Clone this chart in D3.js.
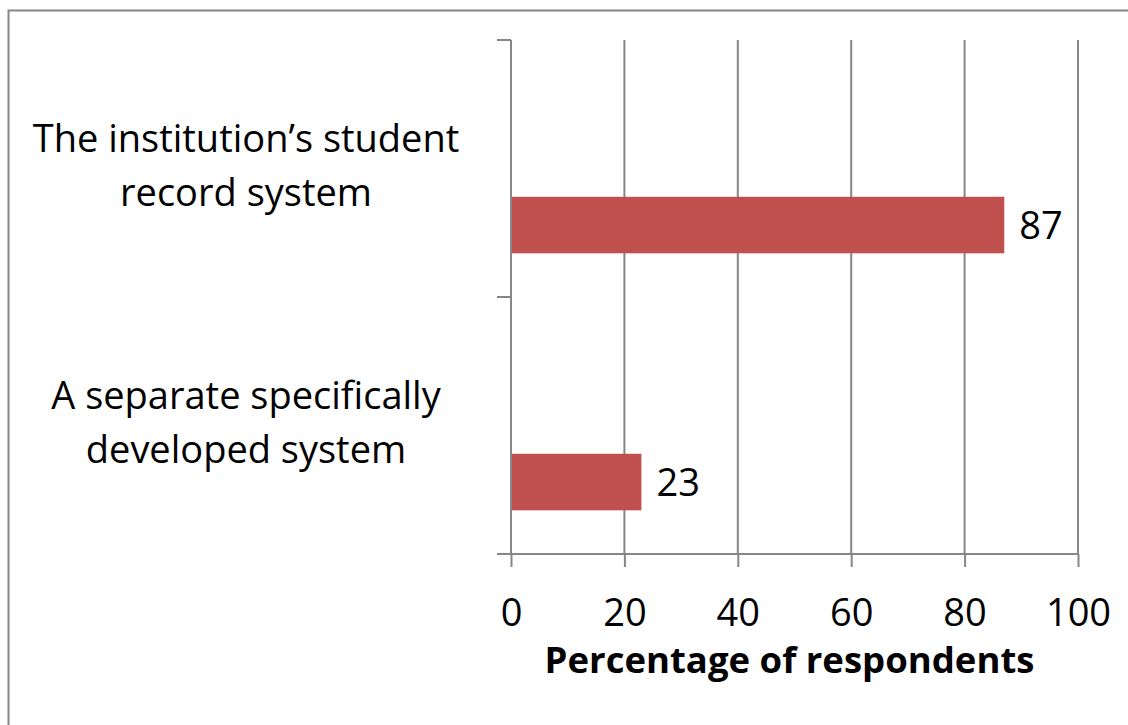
<!DOCTYPE html>
<html>
<head>
<meta charset="utf-8">
<script src="https://cdn.jsdelivr.net/npm/d3@7"></script>
<style>
  html, body { margin: 0; padding: 0; background: #fff; }
  svg { display: block; }
  text { font-family: "Open Sans", Lato, sans-serif; fill: #000; }
</style>
</head>
<body>
<svg id="chart" width="1128" height="725"></svg>
<script>
// Where institutions record the data (percentage of respondents)
const categories = [
  ["The institution\u2019s student", "record system"],
  ["A separate specifically", "developed system"]
];
const values = [87, 23];
const xTicks = [0, 20, 40, 60, 80, 100];
const axisTitle = "Percentage of respondents";

const svg = d3.select("#chart");
const W = 1128, H = 725;
const plot = { left: 511, right: 1078, top: 40, bottom: 554 };
const grey = "#868686";
const barColor = "#C0504D";
const font = "'Open Sans', Lato, sans-serif";

// Outer chart frame (only its top and left edges fall inside the view)
svg.append("rect")
  .attr("x", 8.5).attr("y", 10.5)
  .attr("width", W + 20).attr("height", H + 20)
  .attr("fill", "#fff").attr("stroke", grey).attr("stroke-width", 2);

const x = d3.scaleLinear().domain([0, 100]).range([plot.left, plot.right]);
const keys = categories.map((c, i) => i);
const y = d3.scaleBand().domain(keys).range([plot.top, plot.bottom]).padding(0);

// Vertical gridlines
svg.append("g")
  .selectAll("line")
  .data(xTicks.filter(t => t > 0))
  .join("line")
  .attr("x1", d => x(d)).attr("x2", d => x(d))
  .attr("y1", plot.top).attr("y2", plot.bottom)
  .attr("stroke", grey).attr("stroke-width", 2);

// Bars sit in the lower part of each category slot
const barH = y.bandwidth() * 0.22;
const barOffset = y.bandwidth() * 0.72 - barH / 2;
svg.append("g")
  .selectAll("rect")
  .data(values)
  .join("rect")
  .attr("x", x(0))
  .attr("y", (d, i) => y(i) + barOffset)
  .attr("width", d => x(d) - x(0))
  .attr("height", barH)
  .attr("fill", barColor);

// Value labels
svg.append("g")
  .selectAll("text")
  .data(values)
  .join("text")
  .attr("x", d => x(d) + 15)
  .attr("y", (d, i) => y(i) + barOffset + barH / 2 + 14)
  .attr("font-size", 38)
  .text(d => d);

// Bottom axis
const xAxis = d3.axisBottom(x).tickValues(xTicks).tickSize(13).tickSizeOuter(0).tickPadding(6);
const gx = svg.append("g").attr("transform", `translate(0,${plot.bottom})`).call(xAxis);
gx.select(".domain").attr("stroke", grey).attr("stroke-width", 2)
  .attr("d", `M${plot.left - 14},0H${plot.right}`);
gx.selectAll(".tick line").attr("stroke", grey).attr("stroke-width", 2);
gx.selectAll(".tick text")
  .attr("font-size", 38)
  .attr("font-family", font)
  .attr("fill", "#000")
  .attr("dy", null)
  .attr("y", 72);

// Left axis with ticks at the category boundaries
const bounds = keys.map(k => y(k)).concat([plot.bottom]);
svg.append("line")
  .attr("x1", plot.left).attr("x2", plot.left)
  .attr("y1", plot.top).attr("y2", plot.bottom)
  .attr("stroke", grey).attr("stroke-width", 2);
svg.append("g")
  .selectAll("line")
  .data(bounds)
  .join("line")
  .attr("x1", plot.left - 14).attr("x2", plot.left)
  .attr("y1", d => d).attr("y2", d => d)
  .attr("stroke", grey).attr("stroke-width", 2);

// Category labels, two lines each, centred on their slot
const catG = svg.append("g")
  .selectAll("text")
  .data(categories)
  .join("text")
  .attr("text-anchor", "middle")
  .attr("font-size", 38);
catG.selectAll("tspan")
  .data((d, i) => d.map((line, j) => ({ line, j, i })))
  .join("tspan")
  .attr("x", 246)
  .attr("y", d => y(d.i) + y.bandwidth() / 2 - 17 + d.j * 54)
  .text(d => d.line);

// Axis title
svg.append("text")
  .attr("x", (plot.left + plot.right) / 2 - 5)
  .attr("y", 673)
  .attr("text-anchor", "middle")
  .attr("font-size", 36.5)
  .attr("font-weight", "bold")
  .text(axisTitle);
</script>
</body>
</html>
